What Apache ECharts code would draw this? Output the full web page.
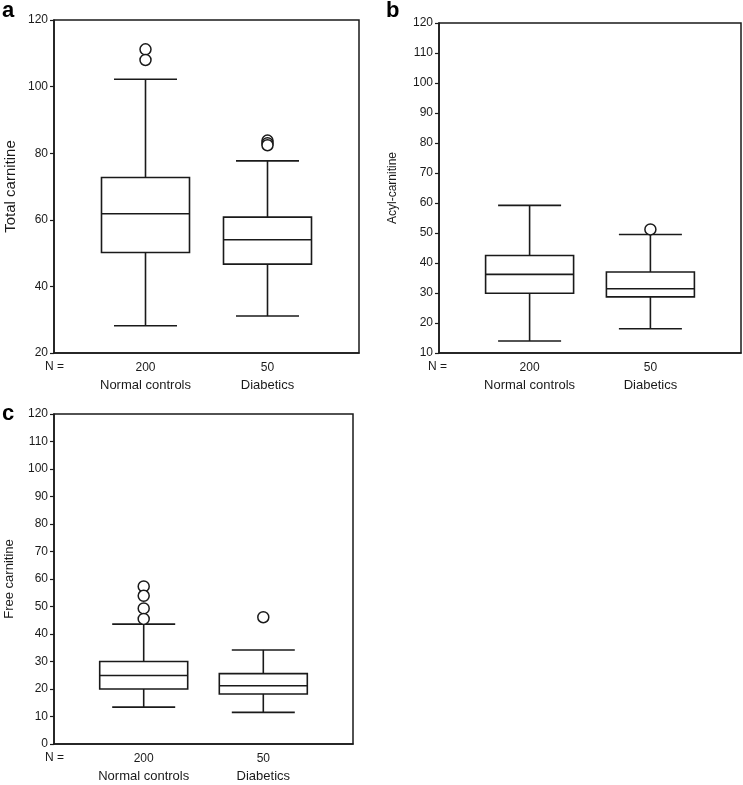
<!DOCTYPE html>
<html>
<head>
<meta charset="utf-8">
<script src="https://cdn.jsdelivr.net/npm/echarts@6/dist/echarts.min.js"></script>
<style>
html,body{margin:0;padding:0;background:#fff;}
#chart{width:743px;height:785px;}
</style>
</head>
<body>
<div id="chart"></div>
<script>
// ---- data ----
const groups = ['Normal controls', 'Diabetics'];
const nLabels = ['200', '50'];
// [min, Q1, median, Q3, max]
const totalBox = [[28.2, 50.2, 61.8, 72.7, 102.2], [31.1, 46.7, 54.0, 60.8, 77.7]];
const totalOut = [[111.2, 108.0], [83.8, 83.0, 82.4]];
const acylBox = [[14.0, 29.9, 36.2, 42.5, 59.2], [18.1, 28.7, 31.4, 37.0, 49.5]];
const acylOut = [[], [51.2]];
const freeBox = [[13.4, 20.0, 24.9, 30.0, 43.6], [11.5, 18.2, 21.2, 25.6, 34.2]];
const freeOut = [[57.3, 53.9, 49.3, 45.5], [46.1]];
const yTitles = ['Total carnitine', 'Acyl-carnitine', 'Free carnitine'];
const yTicks = [[20, 120, 20], [10, 120, 10], [0, 120, 10]];

// ---- layout ----
const FONT = 'Liberation Sans, Arial, sans-serif';
const INK = '#1a1a1a';
const BOX_W = 88, CAP_W = 63;
const grids = [
  {left: 54, top: 20, width: 305, height: 333},
  {left: 439, top: 23, width: 302, height: 330},
  {left: 54, top: 414, width: 299, height: 330}
];
const titleGap = [36, 40, 38];
const titleSize = [15, 12, 13];
const boxes = [totalBox, acylBox, freeBox];
const outs = [totalOut, acylOut, freeOut];

// 5 slots so groups sit at 30% / 70% of the plot width
const slotIdx = [1, 3];
const slots = ['', '', '', '', ''];
const slotLabel = {};
groups.forEach((g, i) => { slots[slotIdx[i]] = g; slotLabel[g] = nLabels[i]; });

function renderBox(params, api) {
  const x = api.value(0);
  const vals = [api.value(1), api.value(2), api.value(3), api.value(4), api.value(5)];
  const p = vals.map(v => api.coord([x, v]));
  const cx = p[0][0];
  const hb = BOX_W / 2, hc = CAP_W / 2;
  const st = {stroke: INK, lineWidth: 1.6, fill: null};
  return {
    type: 'group',
    children: [
      {type: 'rect', shape: {x: cx - hb, y: p[3][1], width: BOX_W, height: p[1][1] - p[3][1]}, style: {stroke: INK, lineWidth: 1.6, fill: '#fff'}},
      {type: 'line', shape: {x1: cx - hb, y1: p[2][1], x2: cx + hb, y2: p[2][1]}, style: st},
      {type: 'line', shape: {x1: cx, y1: p[3][1], x2: cx, y2: p[4][1]}, style: st},
      {type: 'line', shape: {x1: cx, y1: p[1][1], x2: cx, y2: p[0][1]}, style: st},
      {type: 'line', shape: {x1: cx - hc, y1: p[4][1], x2: cx + hc, y2: p[4][1]}, style: st},
      {type: 'line', shape: {x1: cx - hc, y1: p[0][1], x2: cx + hc, y2: p[0][1]}, style: st}
    ]
  };
}

const option = {
  animation: false,
  backgroundColor: '#fff',
  grid: grids.map(g => Object.assign({show: true, borderColor: INK, borderWidth: 1.5, backgroundColor: 'transparent'}, g)),
  xAxis: grids.map((g, i) => ({
    type: 'category', gridIndex: i, data: slots, boundaryGap: true,
    axisLine: {lineStyle: {color: INK, width: 1.5}},
    axisTick: {length: 3, alignWithLabel: true, interval: (idx, v) => v !== '', lineStyle: {color: INK, width: 1.2}},
    axisLabel: {
      interval: (idx, v) => v !== '',
      margin: 6,
      formatter: v => v ? '{n|' + slotLabel[v] + '}\n{g|' + v + '}' : '',
      rich: {
        n: {fontFamily: FONT, fontSize: 12, color: INK, lineHeight: 17},
        g: {fontFamily: FONT, fontSize: 13, color: INK, lineHeight: 19}
      }
    },
    splitLine: {show: false}
  })),
  yAxis: grids.map((g, i) => ({
    type: 'value', gridIndex: i,
    min: yTicks[i][0], max: yTicks[i][1], interval: yTicks[i][2],
    name: yTitles[i], nameLocation: 'middle', nameGap: titleGap[i],
    nameTextStyle: {fontFamily: FONT, fontSize: titleSize[i], color: INK},
    axisLine: {show: true, lineStyle: {color: INK, width: 1.5}},
    axisTick: {show: true, length: 4, lineStyle: {color: INK, width: 1.2}},
    axisLabel: {fontFamily: FONT, fontSize: 12, color: INK, margin: 6},
    splitLine: {show: false}
  })),
  series: [],
  graphic: [
    {type: 'text', left: 2, top: 0, style: {text: 'a', font: 'bold 22px ' + FONT, fill: '#000'}},
    {type: 'text', left: 386, top: 0, style: {text: 'b', font: 'bold 22px ' + FONT, fill: '#000'}},
    {type: 'text', left: 2, top: 403, style: {text: 'c', font: 'bold 22px ' + FONT, fill: '#000'}},
    {type: 'text', left: 45, top: 361, style: {text: 'N =', font: '12px ' + FONT, fill: INK}},
    {type: 'text', left: 428, top: 361, style: {text: 'N =', font: '12px ' + FONT, fill: INK}},
    {type: 'text', left: 45, top: 752, style: {text: 'N =', font: '12px ' + FONT, fill: INK}}
  ]
};

boxes.forEach((b, i) => {
  option.series.push({
    type: 'custom', xAxisIndex: i, yAxisIndex: i,
    renderItem: renderBox,
    encode: {x: 0, y: [1, 2, 3, 4, 5]},
    data: b.map((v, k) => [slotIdx[k]].concat(v)),
    z: 2
  });
  const pts = [];
  outs[i].forEach((arr, k) => arr.forEach(v => pts.push([slotIdx[k], v])));
  option.series.push({
    type: 'scatter', xAxisIndex: i, yAxisIndex: i,
    symbol: 'circle', symbolSize: 11,
    itemStyle: {color: '#fff', borderColor: INK, borderWidth: 1.5, opacity: 1},
    data: pts, z: 3
  });
});

const chart = echarts.init(document.getElementById('chart'), null, {renderer: 'canvas'});
chart.setOption(option);
</script>
</body>
</html>
